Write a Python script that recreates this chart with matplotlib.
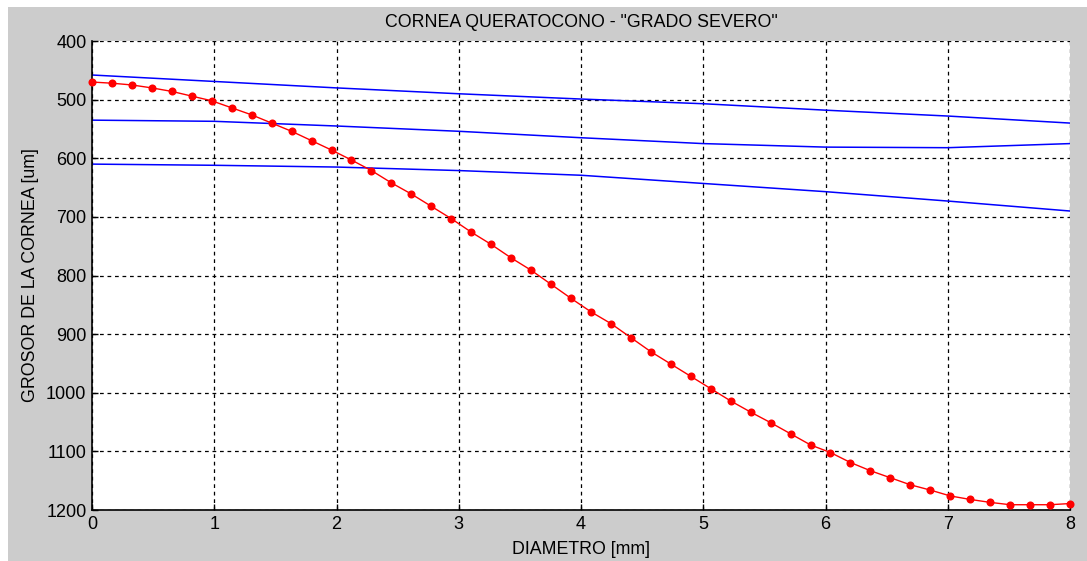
import matplotlib
matplotlib.use("Agg")
import matplotlib.pyplot as plt
import numpy as np

# diametro (mm), 50 muestras de 0 a 8
diam = np.linspace(0, 8, 50)
# grosor (um)
grosor_severo = [470, 472, 475, 480, 486, 494, 502, 514, 526, 540,
                 554, 570, 586, 603, 621, 642, 661, 682, 703, 726,
                 747, 770, 791, 815, 839, 862, 882, 906, 930, 951,
                 972, 993, 1014, 1033, 1051, 1070, 1089, 1102, 1119, 1133,
                 1145, 1157, 1166, 1176, 1182, 1187, 1191, 1191, 1191, 1189]

# curvas de referencia (azul)
diam_ref = [0, 1, 2, 3, 4, 5, 6, 7, 8]
ref_sup = [458, 469, 480, 490, 499, 507, 518, 528, 540]
ref_med = [535, 537, 545, 554, 565, 575, 581, 582, 575]
ref_inf = [610, 612, 615, 621, 629, 643, 657, 673, 690]

plt.rcParams['font.family'] = ['Liberation Sans', 'DejaVu Sans']

fig = plt.figure(figsize=(10.87, 5.61), dpi=100, facecolor='white')
# fondo gris tipo MATLAB
fig.patches.append(plt.Rectangle((8/1087, 0), 1, 1 - 7/561, transform=fig.transFigure,
                                 facecolor='#cccccc', edgecolor='none', zorder=-10))
ax = fig.add_axes([92/1087, 1 - 510/561, 978/1087, 469/561])
ax.set_facecolor('white')

for r in (ref_sup, ref_med, ref_inf):
    ax.plot(diam_ref, r, color='#0000ff', lw=1.1)
ax.plot(diam, grosor_severo, color='red', lw=1.0, marker='o', ms=5.8,
        markeredgewidth=0, clip_on=False, zorder=5)

ax.set_xlim(0, 8)
ax.set_ylim(1200, 400)
ax.set_xticks(range(0, 9))
ax.set_yticks(range(400, 1201, 100))
ax.grid(True, color='black', linestyle=(0, (3, 3)), linewidth=0.9)
ax.spines['top'].set_visible(False)
ax.spines['right'].set_visible(False)
ax.spines['left'].set_linewidth(1.2)
ax.spines['bottom'].set_linewidth(1.2)
ax.tick_params(direction='in', length=4, width=1, labelsize=13, colors='black', pad=4)

ax.set_title('CORNEA QUERATOCONO - "GRADO SEVERO"', fontsize=12.8, pad=10)
ax.set_xlabel('DIAMETRO [mm]', fontsize=12.8, labelpad=6)
ax.set_ylabel('GROSOR DE LA CORNEA [um]', fontsize=12.8, labelpad=5)

fig.savefig('out.png', dpi=100, facecolor='white')
